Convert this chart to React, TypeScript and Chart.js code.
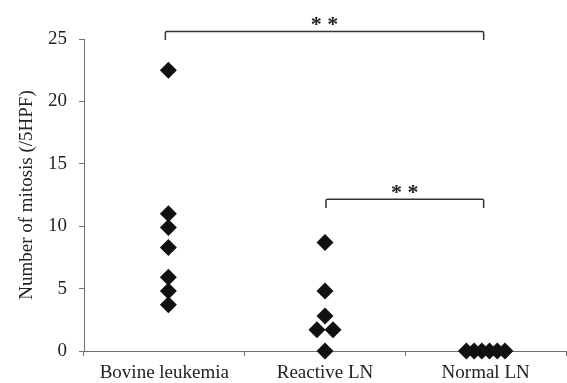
import React, { useEffect, useRef } from 'react';
import { Chart, registerables } from 'chart.js';

Chart.register(...registerables);

// ---- data ----
const categories = ['Bovine leukemia', 'Reactive LN', 'Normal LN'];
const yTickValues = [0, 5, 10, 15, 20, 25];

const bovineValues = [22.5, 11.0, 9.9, 8.3, 5.9, 4.8, 3.7];
const bovineJitter = [0.025, 0.025, 0.025, 0.025, 0.025, 0.025, 0.025];

const reactiveValues = [8.7, 4.8, 2.8, 1.7, 1.7, 0.0];
const reactiveJitter = [0, 0, 0, -0.05, 0.05, 0];

const normalValues = [0, 0, 0, 0, 0, 0];
const normalJitter = [-0.12, -0.072, -0.024, 0.024, 0.072, 0.12];

const groupValues = [bovineValues, reactiveValues, normalValues];
const groupJitter = [bovineJitter, reactiveJitter, normalJitter];

// significance comparisons (category index from/to, bracket height, drop, label)
const compFrom = [0, 1];
const compTo = [2, 2];
const compY = [25.6, 12.15];
const compDrop = [0.68, 0.7];
const compLabel = ['**', '**'];

const FONT = "'Liberation Serif', 'Times New Roman', serif";
const TEXT = '#222222';
const AXIS = '#707070';

const bracketPlugin = {
  id: 'brackets',
  afterDraw(chart: any) {
    const ctx = chart.ctx;
    const xs = chart.scales.x;
    const ys = chart.scales.y;
    ctx.save();
    ctx.strokeStyle = '#333333';
    ctx.lineWidth = 1.5;
    ctx.lineJoin = 'round';
    for (let i = 0; i < compFrom.length; i++) {
      const x1 = xs.getPixelForValue(compFrom[i]) + 1;
      const x2 = xs.getPixelForValue(compTo[i]) - 2;
      const y = ys.getPixelForValue(compY[i]);
      const yEnd = ys.getPixelForValue(compY[i] - compDrop[i]);
      ctx.beginPath();
      ctx.moveTo(x1, yEnd);
      ctx.lineTo(x1, y + 1.5);
      ctx.quadraticCurveTo(x1, y, x1 + 1.5, y);
      ctx.lineTo(x2 - 1.5, y);
      ctx.quadraticCurveTo(x2, y, x2, y + 1.5);
      ctx.lineTo(x2, yEnd);
      ctx.stroke();
      ctx.fillStyle = '#222222';
      ctx.font = `bold 22px ${FONT}`;
      ctx.textAlign = 'center';
      ctx.textBaseline = 'middle';
      ctx.fillText(compLabel[i].split('').join(' '), (x1 + x2) / 2, y - 6);
    }
    ctx.restore();
  },
};

export default function App() {
  const ref = useRef<HTMLCanvasElement | null>(null);

  useEffect(() => {
    if (!ref.current) return;
    const datasets = groupValues.map((vals, g) => ({
      label: categories[g],
      data: vals.map((v, i) => ({ x: g + groupJitter[g][i], y: v })),
      pointStyle: 'rectRot' as const,
      pointRadius: 8.5,
      pointHoverRadius: 8.5,
      backgroundColor: '#111111',
      borderColor: '#111111',
      borderWidth: 0,
      clip: false as any,
    }));

    const chart = new Chart(ref.current, {
      type: 'scatter',
      data: { datasets },
      plugins: [bracketPlugin],
      options: {
        animation: false,
        responsive: false,
        devicePixelRatio: 1,
        layout: { autoPadding: false, padding: { top: 39, right: 1, left: 0, bottom: 0 } },
        plugins: {
          legend: { display: false },
          tooltip: { enabled: false },
        },
        scales: {
          x: {
            type: 'linear',
            min: -0.5,
            max: 2.5,
            afterBuildTicks: (axis: any) => {
              axis.ticks = categories.map((_, i) => ({ value: i }));
            },
            afterFit: (scale: any) => {
              scale.height = 32;
              scale.paddingLeft = 0;
              scale.paddingRight = 0;
            },
            ticks: {
              callback: (v: any) => categories[Math.round(Number(v))] ?? '',
              color: TEXT,
              font: { family: FONT, size: 19 },
              padding: 6,
              maxRotation: 0,
              autoSkip: false,
            },
            grid: {
              offset: true,
              drawOnChartArea: false,
              drawTicks: true,
              tickLength: 5,
              color: AXIS,
              lineWidth: 1,
            },
            border: { color: AXIS, width: 1 },
          },
          y: {
            type: 'linear',
            min: 0,
            max: 25,
            afterBuildTicks: (axis: any) => {
              axis.ticks = yTickValues.map((v) => ({ value: v }));
            },
            afterFit: (scale: any) => {
              scale.width = 84;
            },
            ticks: {
              color: TEXT,
              font: { family: FONT, size: 19 },
              padding: 12,
            },
            grid: {
              drawOnChartArea: false,
              drawTicks: true,
              tickLength: 5,
              color: AXIS,
              lineWidth: 1,
            },
            border: { color: AXIS, width: 1 },
            title: {
              display: true,
              text: 'Number of mitosis (/5HPF)',
              color: TEXT,
              font: { family: FONT, size: 19 },
              padding: { top: 16, bottom: 0 },
            },
          },
        },
      },
    });
    return () => chart.destroy();
  }, []);

  return (
    <div style={{ position: 'absolute', left: 0, top: 0, width: 567, height: 383, background: '#fff' }}>
      <canvas ref={ref} width={567} height={383} style={{ width: 567, height: 383 }} />
    </div>
  );
}
